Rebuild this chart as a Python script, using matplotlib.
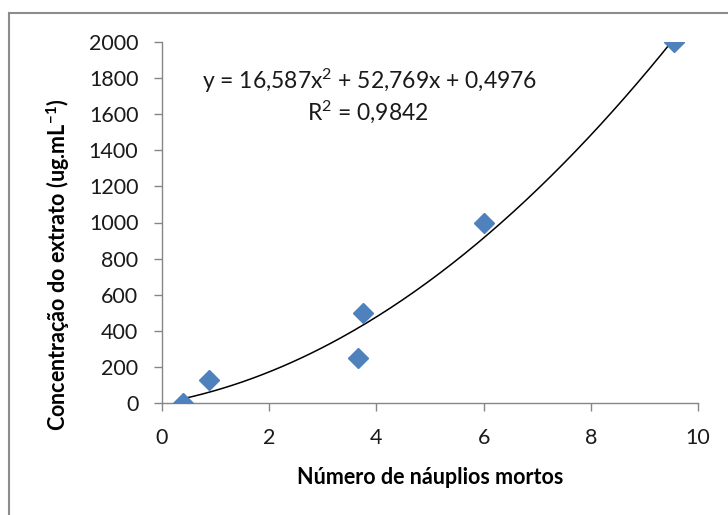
import numpy as np
import matplotlib
matplotlib.use("Agg")
import matplotlib.pyplot as plt
from matplotlib.lines import Line2D

# Data
x_vals = [0.40, 0.88, 3.65, 3.75, 6.00, 9.55]
y_vals = [0, 125, 250, 500, 1000, 2000]
coef = [16.587, 52.769, 0.4976]  # quadratic trend line a, b, c
eq_text = r"y = 16,587x$^{2}$ + 52,769x + 0,4976"
r2_text = r"R$^{2}$ = 0,9842"
x_label = "Número de náuplios mortos"
y_label = r"Concentração do extrato (ug.mL$^{\mathbf{-1}}$)"
x_ticks = [0, 2, 4, 6, 8, 10]
y_ticks = [0, 200, 400, 600, 800, 1000, 1200, 1400, 1600, 1800, 2000]

plt.rcParams['font.family'] = ['Lato', 'DejaVu Sans']
plt.rcParams['mathtext.fontset'] = 'custom'
plt.rcParams['mathtext.rm'] = 'Lato'
plt.rcParams['mathtext.it'] = 'Lato'
plt.rcParams['mathtext.bf'] = 'Lato:bold'
plt.rcParams['mathtext.default'] = 'rm'

W, H = 728, 515
fig = plt.figure(figsize=(W/100, H/100), dpi=100)
L, R, B, T = 162, 698, 403, 42
ax = fig.add_axes([L/W, 1-B/H, (R-L)/W, (B-T)/H])

xf = np.linspace(min(x_vals), max(x_vals), 200)
yf = np.polyval(coef, xf)
ax.plot(xf, yf, color='black', lw=1.1, zorder=2)
ax.plot(x_vals, y_vals, linestyle='none', marker='D', ms=10.5,
        color='#4F81BD', mec='#4F81BD', zorder=3)

ax.set_xlim(0, 10)
ax.set_ylim(0, 2000)
ax.set_xticks(x_ticks)
ax.set_yticks(y_ticks)
for s in ['top', 'right']:
    ax.spines[s].set_visible(False)
for s in ['left', 'bottom']:
    ax.spines[s].set_color('#868686')
    ax.spines[s].set_linewidth(1.0)
ax.tick_params(direction='out', length=6, width=1.0, color='#868686',
               labelsize=15.5, labelcolor='#1a1a1a')
ax.tick_params(axis='x', pad=12)
ax.tick_params(axis='y', pad=11)

fig.text(370/W, 1-81/H, eq_text, fontsize=16.5, ha='center', va='center', color='#1a1a1a')
fig.text(368/W, 1-112/H, r2_text, fontsize=16.5, ha='center', va='center', color='#1a1a1a')

ax.set_xlabel(x_label, fontsize=15.5, fontweight='bold', color='black')
ax.set_ylabel(y_label, fontsize=15.5, fontweight='bold', color='black')
ax.xaxis.set_label_coords((430-L)/(R-L), -(467-B)/(B-T))
ax.yaxis.set_label_coords(-(L-72)/(R-L), (B-265)/(B-T))

# outer chart border (left & top visible)
fig.add_artist(Line2D([9/W, 9/W], [0, 1-13/H], color='#8c8c8c', lw=1.5))
fig.add_artist(Line2D([9/W, 1], [1-13/H, 1-13/H], color='#8c8c8c', lw=1.5))

fig.savefig("out.png", dpi=100)
